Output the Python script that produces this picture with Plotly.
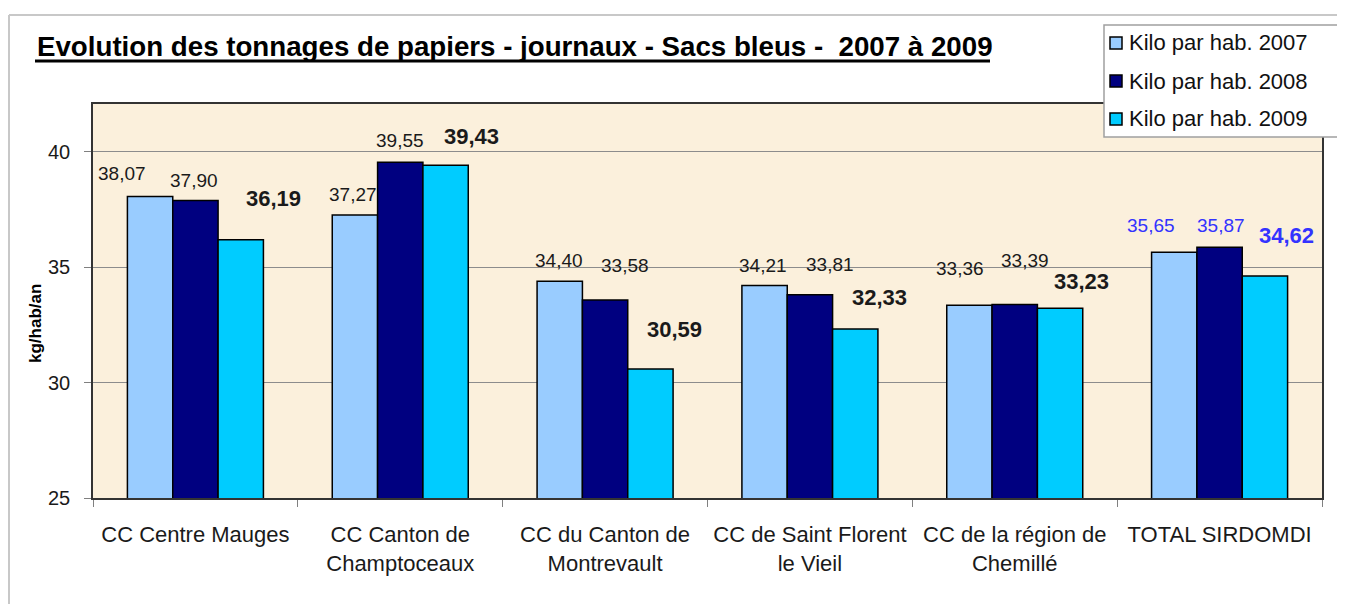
import plotly.graph_objects as go

categories = [
    "CC Centre Mauges",
    "CC Canton de<br>Champtoceaux",
    "CC du Canton de<br>Montrevault",
    "CC de Saint Florent<br>le Vieil",
    "CC de la région de<br>Chemillé",
    "TOTAL SIRDOMDI",
]
series_names = ["Kilo par hab. 2007", "Kilo par hab. 2008", "Kilo par hab. 2009"]
kilo_2007 = [38.07, 37.27, 34.40, 34.21, 33.36, 35.65]
kilo_2008 = [37.90, 39.55, 33.58, 33.81, 33.39, 35.87]
kilo_2009 = [36.19, 39.43, 30.59, 32.33, 33.23, 34.62]
series_values = [kilo_2007, kilo_2008, kilo_2009]

colors = ["#99CCFF", "#000080", "#00CCFF"]

# label offsets (px) from the group centre / bar top, as placed in the original
label_dx = [
    [-73, -47, -46, -47, -55, -69],
    [-1, 0, 20, 20, 10, 1],
    [78, 71, 69, 70, 67, 67],
]
label_dy = [
    [25, 22, 23, 22, 39, 29],
    [22, 24, 37, 32, 46, 24],
    [43, 31, 42, 33, 29, 43],
]

# page has an 8px body margin, so the figure sits at (8, 8)
OFF = 8
W, H = 1345 - OFF, 604 - OFF
L, R, T, B = 85, 23, 96, 106
PW, PH = W - L - R, H - T - B


def px(x):
    return (x - OFF - L) / PW


def py(y):
    return (H - B - (y - OFF)) / PH


FONT = "Liberation Sans, Arial, sans-serif"

fig = go.Figure()
for name, vals, col in zip(series_names, series_values, colors):
    fig.add_trace(go.Bar(
        name=name, x=categories, y=vals,
        marker=dict(color=col, line=dict(color="black", width=1.5)),
        showlegend=False,
    ))

annotations = []
for s, vals in enumerate(series_values):
    for i, v in enumerate(vals):
        total = i == len(categories) - 1
        bold = s == 2
        txt = f"{v:.2f}".replace(".", ",")
        annotations.append(dict(
            x=categories[i], y=v, xref="x", yref="y",
            text=f"<b>{txt}</b>" if bold else txt,
            showarrow=False, xanchor="center", yanchor="middle",
            xshift=label_dx[s][i], yshift=label_dy[s][i] - 2,
            font=dict(family=FONT, size=22 if bold else 19,
                      color="#3333FF" if total else "#1a1a1a"),
        ))

# title
annotations.append(dict(
    x=px(35), y=py(47), xref="paper", yref="paper",
    text="<b>Evolution des tonnages de papiers - journaux - Sacs bleus -  2007 à 2009</b>",
    showarrow=False, xanchor="left", yanchor="middle",
    font=dict(family=FONT, size=27.7, color="black"),
))
# y axis title
annotations.append(dict(
    x=px(35), y=py(324), xref="paper", yref="paper",
    text="<b>kg/hab/an</b>", textangle=-90,
    showarrow=False, xanchor="center", yanchor="middle",
    font=dict(family=FONT, size=17, color="black"),
))

shapes = [
    # outer chart frame
    dict(type="line", xref="paper", yref="paper", x0=px(9), x1=px(1345), y0=py(15), y1=py(15),
         line=dict(color="#c8c8c8", width=2)),
    dict(type="line", xref="paper", yref="paper", x0=px(9), x1=px(9), y0=py(15), y1=py(604),
         line=dict(color="#c8c8c8", width=2)),
    # title underline
    dict(type="line", xref="paper", yref="paper", x0=px(35), x1=px(990), y0=py(61), y1=py(61),
         line=dict(color="black", width=3)),
    # legend box
    dict(type="rect", xref="paper", yref="paper", x0=px(1104), x1=px(1341), y0=py(25), y1=py(137),
         fillcolor="white", line=dict(color="#a0a0a0", width=1.5)),
]

for k, (name, col) in enumerate(zip(series_names, colors)):
    yc = 43 + 38 * k
    shapes.append(dict(type="rect", xref="paper", yref="paper",
                       x0=px(1110), x1=px(1122), y0=py(yc - 6), y1=py(yc + 6),
                       fillcolor=col, line=dict(color="black", width=1.5)))
    annotations.append(dict(
        x=px(1127), y=py(yc), xref="paper", yref="paper", text=name,
        showarrow=False, xanchor="left", yanchor="middle",
        font=dict(family=FONT, size=22, color="#111111"),
    ))

fig.update_layout(
    width=W, height=H,
    margin=dict(l=L, r=R, t=T, b=B),
    paper_bgcolor="white",
    plot_bgcolor="#FBF0DC",
    barmode="group",
    bargap=0.336,
    bargroupgap=0,
    font=dict(family=FONT, color="#1a1a1a"),
    annotations=annotations,
    shapes=shapes,
    xaxis=dict(
        showline=True, linecolor="#333333", linewidth=1.5, mirror=True,
        ticks="outside", tickson="boundaries", ticklen=7, tickcolor="#808080",
        tickfont=dict(family=FONT, size=22, color="#1a1a1a"),
        ticklabelstandoff=16,
    ),
    yaxis=dict(
        range=[25, 42.08], tick0=25, dtick=5,
        showgrid=True, gridcolor="#8c8c8c", gridwidth=1,
        showline=True, linecolor="#333333", linewidth=1.5, mirror=True,
        ticks="outside", ticklen=7, tickcolor="#808080",
        tickfont=dict(family=FONT, size=20, color="#1a1a1a"),
        ticklabelstandoff=10,
        zeroline=False,
    ),
)

fig.write_html("out.html")
